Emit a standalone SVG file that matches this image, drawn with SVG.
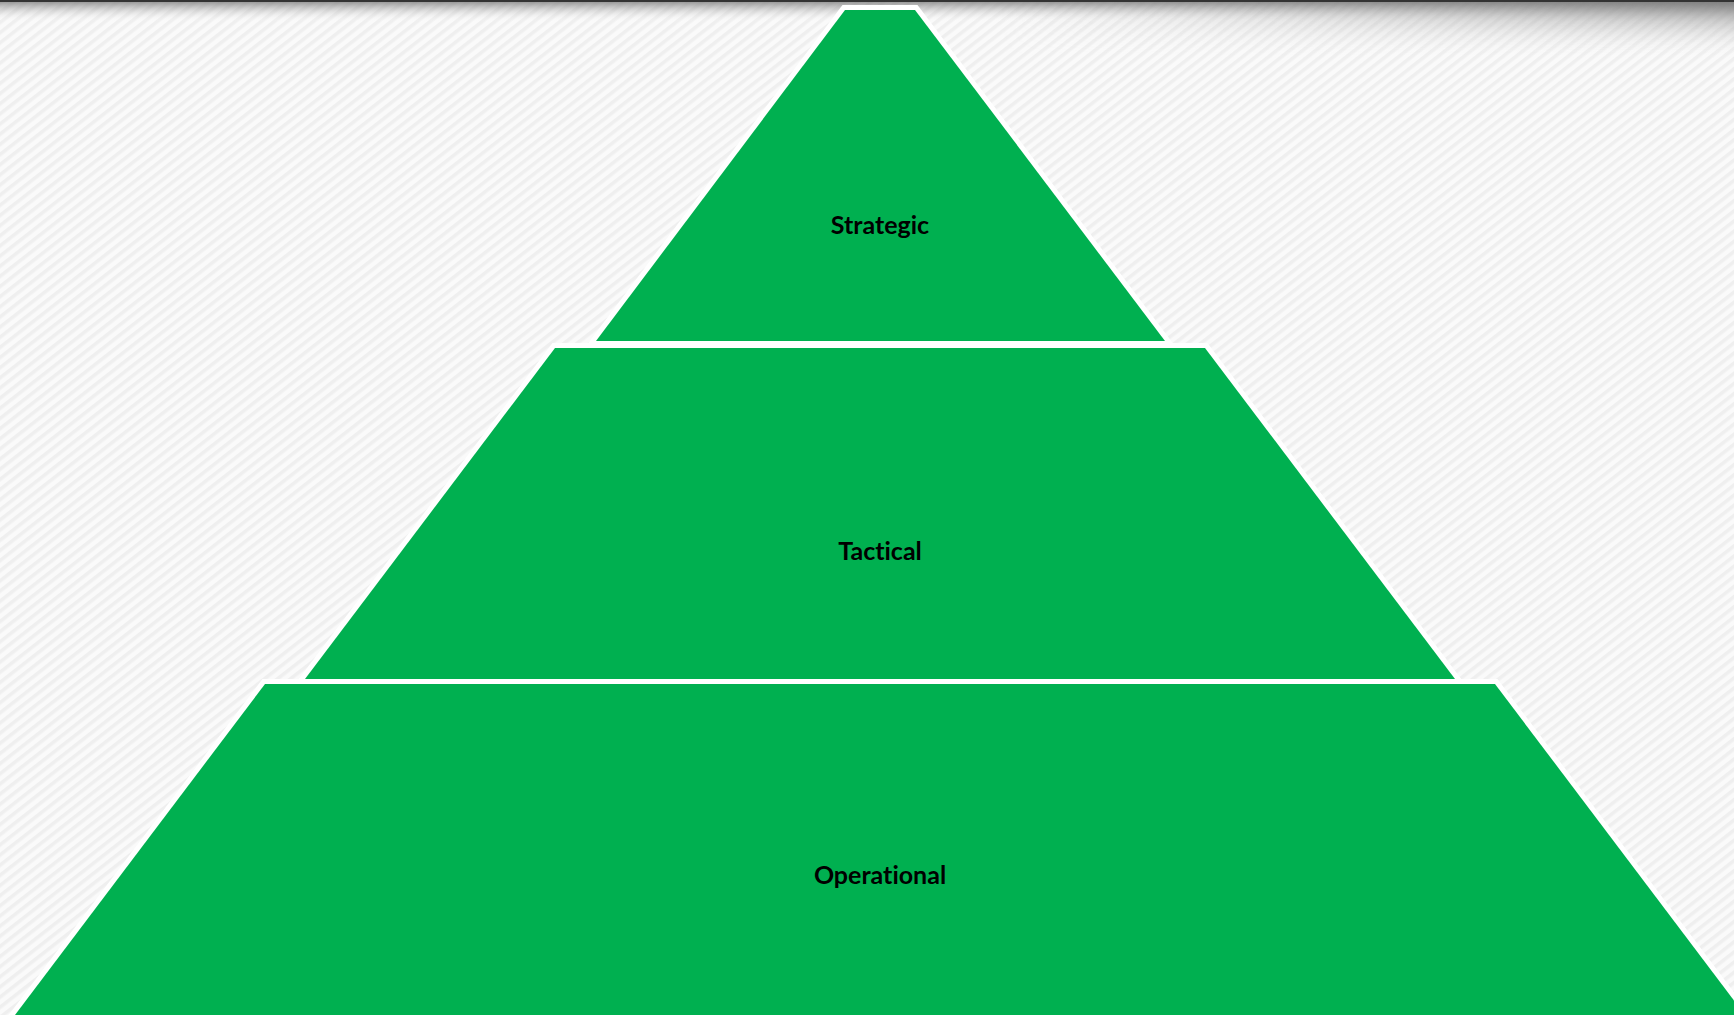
<svg xmlns="http://www.w3.org/2000/svg" width="1734" height="1015" viewBox="0 0 1734 1015">
  <defs>
    <pattern id="stripes" width="8" height="8" patternUnits="userSpaceOnUse" patternTransform="rotate(-38)">
      <rect width="8" height="8" fill="#fafafa"/>
      <rect width="8" height="3.5" fill="#efefef"/>
    </pattern>
    <linearGradient id="shadeTop" x1="0" y1="0" x2="0" y2="1">
      <stop offset="0" stop-color="#7a7a7a" stop-opacity="0.9"/>
      <stop offset="0.35" stop-color="#9a9a9a" stop-opacity="0.5"/>
      <stop offset="1" stop-color="#ffffff" stop-opacity="0"/>
    </linearGradient>
    <linearGradient id="shadeFade" x1="0" y1="0" x2="1" y2="0">
      <stop offset="0" stop-color="#fff" stop-opacity="0"/>
      <stop offset="1" stop-color="#fff" stop-opacity="1"/>
    </linearGradient>
    <mask id="rightMask">
      <rect x="1000" y="0" width="734" height="70" fill="url(#shadeFade)"/>
    </mask>
    <style>
      .tier { fill: #00B050; stroke: #ffffff; stroke-width: 10; stroke-linejoin: miter; paint-order: stroke; }
      .label { font-family: Lato, "Open Sans", "Liberation Sans", sans-serif; font-weight: bold; font-size: 25px; fill: #000000; text-anchor: middle; font-variant-ligatures: none; font-feature-settings: "liga" 0; }
    </style>
  </defs>

  <rect x="0" y="0" width="1734" height="1015" fill="url(#stripes)"/>
  <rect x="0" y="0" width="1734" height="22" fill="url(#shadeTop)"/>
  <rect x="1000" y="0" width="734" height="58" fill="url(#shadeTop)" mask="url(#rightMask)"/>
  <rect x="0" y="0" width="1734" height="2" fill="#333333"/>

  <g id="node-strategic">
    <polygon class="tier" points="845,10 915,10 1165,341 596,341"/>
    <text class="label" x="880" y="234">Strategic</text>
  </g>
  <g id="node-tactical">
    <polygon class="tier" points="555,348 1205,348 1455,679 305,679"/>
    <text class="label" x="880" y="560">Tactical</text>
  </g>
  <g id="node-operational">
    <polygon class="tier" points="265,684 1495,684 1745,1015 15,1015"/>
    <text class="label" x="880" y="884">Operational</text>
  </g>
  <g id="connectors"/>
</svg>
